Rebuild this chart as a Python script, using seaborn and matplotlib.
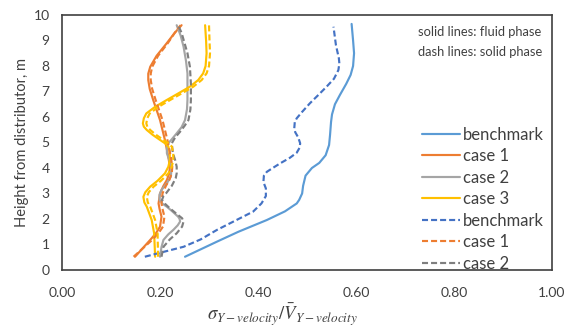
import numpy as np
import pandas as pd
import matplotlib
matplotlib.use("Agg")
import matplotlib.pyplot as plt
import seaborn as sns

# ---------------- data ----------------
bench_fluid_h = [0.52, 1.11, 1.5, 1.96, 2.3, 2.61, 2.75, 3.0, 3.3, 3.7, 4.0, 4.2, 4.5, 4.9, 5.3, 5.8,
                 6.1, 6.5, 6.86, 7.3, 7.65, 8.0, 8.5, 9.0, 9.65]
bench_fluid_v = [0.251, 0.316, 0.360, 0.418, 0.455, 0.479, 0.484, 0.490, 0.492, 0.497, 0.510, 0.525,
                 0.538, 0.545, 0.547, 0.549, 0.551, 0.557, 0.567, 0.580, 0.589, 0.594, 0.596, 0.594, 0.591]

case1_fluid_h = [0.52, 1.18, 1.45, 1.7, 2.09, 2.4, 2.61, 3.0, 3.3, 3.53, 3.8, 4.05, 4.44, 5.1, 5.88,
                 6.67, 7.1, 7.45, 7.7, 7.97, 8.4, 8.9, 9.3, 9.6]
case1_fluid_v = [0.149, 0.180, 0.192, 0.200, 0.203, 0.199, 0.197, 0.200, 0.207, 0.214, 0.219, 0.220,
                 0.217, 0.210, 0.200, 0.186, 0.179, 0.176, 0.176, 0.180, 0.193, 0.214, 0.230, 0.244]

case2_fluid_h = [0.52, 0.9, 1.18, 1.4, 1.57, 1.75, 1.9, 2.0, 2.09, 2.3, 2.48, 2.6, 2.75, 2.95, 3.14,
                 3.4, 3.66, 4.05, 4.3, 4.58, 4.8, 4.97, 5.15, 5.36, 5.6, 5.88, 6.3, 6.67, 7.2, 7.71,
                 8.2, 8.76, 9.2, 9.6]
case2_fluid_v = [0.200, 0.203, 0.207, 0.217, 0.227, 0.236, 0.241, 0.240, 0.237, 0.225, 0.214, 0.205,
                 0.199, 0.199, 0.203, 0.214, 0.222, 0.224, 0.219, 0.214, 0.214, 0.217, 0.225, 0.234,
                 0.244, 0.251, 0.255, 0.256, 0.256, 0.256, 0.253, 0.248, 0.242, 0.234]

case3_fluid_h = [0.52, 1.44, 1.96, 2.48, 2.65, 2.87, 3.05, 3.27, 3.5, 3.79, 4.05, 4.31, 4.6, 4.84,
                 4.97, 5.1, 5.3, 5.49, 5.62, 5.75, 5.95, 6.14, 6.4, 6.67, 6.9, 7.19, 7.45, 7.71,
                 8.0, 8.5, 9.0, 9.6]
case3_fluid_v = [0.190, 0.188, 0.183, 0.173, 0.168, 0.166, 0.170, 0.180, 0.195, 0.210, 0.217, 0.220,
                 0.220, 0.217, 0.210, 0.200, 0.185, 0.173, 0.167, 0.165, 0.167, 0.172, 0.190, 0.214,
                 0.235, 0.261, 0.278, 0.288, 0.293, 0.295, 0.294, 0.292]

bench_solid_h = [0.52, 0.7, 0.91, 1.2, 1.57, 1.95, 2.29, 2.61, 2.9, 3.2, 3.45, 3.7, 3.85, 4.0, 4.18,
                 4.4, 4.6, 4.8, 4.97, 5.2, 5.4, 5.56, 5.8, 5.95, 6.2, 6.54, 6.9, 7.19, 7.5, 7.84,
                 8.1, 8.3, 8.82, 9.54]
bench_solid_v = [0.169, 0.205, 0.248, 0.283, 0.316, 0.355, 0.390, 0.407, 0.416, 0.416, 0.411, 0.412,
                 0.418, 0.430, 0.445, 0.465, 0.479, 0.485, 0.486, 0.482, 0.476, 0.474, 0.475, 0.479,
                 0.490, 0.506, 0.525, 0.540, 0.555, 0.564, 0.566, 0.565, 0.559, 0.554]

case1_solid_h = [0.52, 1.18, 1.45, 1.7, 2.09, 2.4, 2.61, 3.0, 3.3, 3.53, 3.8, 4.05, 4.44, 5.1, 5.88,
                 6.67, 7.1, 7.45, 7.7, 7.97, 8.4, 8.9, 9.3, 9.6]
case1_solid_v = [0.146, 0.184, 0.197, 0.206, 0.209, 0.205, 0.203, 0.205, 0.212, 0.219, 0.224, 0.225,
                 0.222, 0.215, 0.205, 0.191, 0.184, 0.181, 0.181, 0.184, 0.196, 0.216, 0.230, 0.242]

case2_solid_h = [0.52, 0.91, 1.2, 1.44, 1.7, 1.9, 2.03, 2.2, 2.42, 2.6, 2.75, 2.9, 3.0, 3.3, 3.6,
                 3.79, 4.05, 4.3, 4.6, 4.97, 5.2, 5.4, 5.65, 5.88, 6.3, 6.67, 7.3, 7.97, 8.5, 8.9,
                 9.3, 9.6]
case2_solid_v = [0.203, 0.207, 0.220, 0.234, 0.245, 0.248, 0.245, 0.234, 0.220, 0.210, 0.204, 0.207,
                 0.212, 0.224, 0.232, 0.234, 0.234, 0.231, 0.226, 0.224, 0.231, 0.240, 0.250, 0.258,
                 0.262, 0.263, 0.263, 0.261, 0.256, 0.250, 0.244, 0.237]

case3_solid_h = [0.52, 1.44, 1.96, 2.48, 2.65, 2.87, 3.05, 3.27, 3.5, 3.79, 4.05, 4.31, 4.6, 4.84,
                 4.97, 5.1, 5.3, 5.49, 5.62, 5.75, 5.95, 6.14, 6.4, 6.67, 6.9, 7.19, 7.45, 7.71,
                 8.0, 8.5, 9.0, 9.6]
case3_solid_v = [0.196, 0.195, 0.190, 0.180, 0.175, 0.173, 0.177, 0.187, 0.202, 0.217, 0.224, 0.227,
                 0.227, 0.224, 0.217, 0.207, 0.192, 0.180, 0.174, 0.172, 0.174, 0.179, 0.197, 0.221,
                 0.242, 0.268, 0.285, 0.295, 0.300, 0.302, 0.301, 0.300]

x_ticks = [0.0, 0.2, 0.4, 0.6, 0.8, 1.0]
y_ticks = list(range(0, 11))
legend_labels = ["benchmark", "case 1", "case 2", "case 3", "benchmark", "case 1", "case 2"]

# ---------------- plot ----------------
sns.set_style("white")
plt.rcParams["font.family"] = ["Lato", "DejaVu Sans"]
plt.rcParams["mathtext.fontset"] = "stix"

fig = plt.figure(figsize=(5.77, 3.31), dpi=100)
ax = fig.add_axes([0.1075, 0.1843, 0.8492, 0.7704])

lw = 1.55
dash = (2.8, 1.4)
series = [
    (bench_fluid_v, bench_fluid_h, "#5B9BD5", "-"),
    (case1_fluid_v, case1_fluid_h, "#ED7D31", "-"),
    (case2_fluid_v, case2_fluid_h, "#A5A5A5", "-"),
    (case3_fluid_v, case3_fluid_h, "#FFC000", "-"),
    (bench_solid_v, bench_solid_h, "#4472C4", "--"),
    (case1_solid_v, case1_solid_h, "#ED7D31", "--"),
    (case2_solid_v, case2_solid_h, "#7F7F7F", "--"),
    (case3_solid_v, case3_solid_h, "#FFC000", "--"),
]
lines = []
for v, h, c, ls in series:
    df = pd.DataFrame({"v": v, "h": h})
    sns.lineplot(data=df, x="v", y="h", sort=False, estimator=None, color=c,
                 lw=lw, ax=ax, legend=False)
    line = ax.lines[-1]
    line.set_solid_joinstyle("round")
    line.set_dash_joinstyle("round")
    if ls == "--":
        line.set_dashes(dash)
    lines.append(line)

ax.set_xlim(0, 1)
ax.set_ylim(0, 10)
ax.set_xticks(x_ticks)
ax.set_xticklabels([f"{t:.2f}" for t in x_ticks])
ax.set_yticks(y_ticks)
ax.tick_params(axis="x", length=0, labelsize=10, colors="#404040", pad=12)
ax.tick_params(axis="y", length=0, labelsize=10, colors="#404040", pad=9)
for s in ax.spines.values():
    s.set_color("#404040")
    s.set_linewidth(1.2)

ax.set_xlabel(r"$\sigma_{Y-velocity}/\bar{V}_{Y-velocity}$", fontsize=13.5, color="#404040")
ax.xaxis.set_label_coords(0.449, -0.125)
ax.set_ylabel("Height from distributor, m", fontsize=10.5, color="#404040", labelpad=3)

leg = ax.legend(lines[:7], legend_labels,
                loc="upper left", bbox_to_anchor=(0.734, 0.562), frameon=False,
                fontsize=12, handlelength=2.28, handletextpad=0.22,
                labelspacing=0.33, borderaxespad=0.0, borderpad=0.0)
for t in leg.get_texts():
    t.set_color("#404040")

ax.text(0.7265, 0.933, "solid lines: fluid phase", transform=ax.transAxes,
        fontsize=9.3, color="#404040", va="center", ha="left")
ax.text(0.7265, 0.855, "dash lines: solid phase", transform=ax.transAxes,
        fontsize=9.3, color="#404040", va="center", ha="left")

fig.savefig("out.png", dpi=100)
